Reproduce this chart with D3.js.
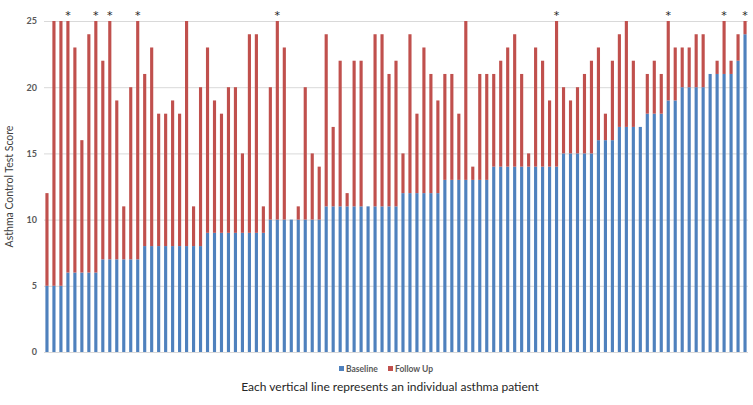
<!DOCTYPE html>
<html>
<head>
<meta charset="utf-8">
<script src="https://cdn.jsdelivr.net/npm/d3@7"></script>
<style>
  html, body { margin: 0; padding: 0; background: #fff; }
  svg { display: block; }
  text { font-family: Lato, "Open Sans", sans-serif; }
</style>
</head>
<body>
<svg id="chart" width="753" height="405"></svg>
<script>
const baseline = [5,5,5,6,6,6,6,6,7,7,7,7,7,7,8,8,8,8,8,8,8,8,8,9,9,9,9,9,9,9,9,9,
  10,10,10,10,10,10,10,10,11,11,11,11,11,11,11,11,11,11,11,12,12,12,12,12,12,
  13,13,13,13,13,13,13,14,14,14,14,14,14,14,14,14,14,15,15,15,15,15,16,16,16,
  17,17,17,17,18,18,18,19,19,20,20,20,20,21,21,21,21,22,24];
const followUp = [12,25,25,25,23,16,24,25,22,25,19,11,20,25,21,23,18,18,19,18,25,11,20,
  23,19,18,20,20,15,24,24,11,20,25,23,10,11,20,15,14,24,17,22,12,22,22,11,24,24,21,
  22,15,24,18,23,21,19,21,21,18,25,14,21,21,21,22,23,24,21,15,23,22,19,25,20,19,20,
  21,22,23,18,22,24,25,22,17,21,22,21,25,23,23,23,24,24,21,22,25,22,24,25];
const significant = [3,7,9,13,33,73,89,97,100];
const yTicks = [0,5,10,15,20,25];
const seriesNames = ["Baseline", "Follow Up"];
const colors = ["#4F81BD", "#C0504D"];

const patients = d3.range(baseline.length);
const svg = d3.select("#chart");
const margin = {left: 44, right: 5, top: 21, bottom: 53};
const W = 753, H = 405;

const x = d3.scaleBand().domain(patients).range([margin.left, W - margin.right]).paddingInner(0.55).paddingOuter(0.2);
const y = d3.scaleLinear().domain([0, 25]).range([H - margin.bottom, margin.top]);

// gridlines
svg.append("g").selectAll("line").data(yTicks).join("line")
  .attr("x1", margin.left).attr("x2", W - margin.right)
  .attr("y1", d => y(d) + 0.5).attr("y2", d => y(d) + 0.5)
  .attr("stroke", "#d9d9d9").attr("stroke-width", 1);

// y axis labels
const yAxis = d3.axisLeft(y).tickValues(yTicks).tickSize(0).tickPadding(7);
svg.append("g").attr("transform", `translate(${margin.left},0)`).call(yAxis)
  .call(g => g.select(".domain").remove())
  .call(g => g.selectAll("text").attr("fill", "#595959").attr("font-size", 9)
    .style("font-family", "Lato, sans-serif").attr("font-weight", "bold"));

// bars
const bw = x.bandwidth();
svg.append("g").selectAll("rect").data(patients).join("rect")
  .attr("x", i => x(i)).attr("width", bw)
  .attr("y", i => y(baseline[i])).attr("height", i => y(0) - y(baseline[i]))
  .attr("fill", colors[0]);
svg.append("g").selectAll("rect").data(patients.filter(i => followUp[i] > baseline[i])).join("rect")
  .attr("x", i => x(i)).attr("width", bw)
  .attr("y", i => y(followUp[i])).attr("height", i => y(baseline[i]) - y(followUp[i]))
  .attr("fill", colors[1]);

// asterisks
svg.append("g").selectAll("text").data(significant).join("text")
  .attr("x", i => x(i) + bw / 2).attr("y", 19)
  .attr("text-anchor", "middle").attr("font-size", 11).attr("fill", "#222")
  .style("font-family", "'DejaVu Sans', sans-serif")
  .text("*");

// y title
svg.append("text")
  .attr("transform", `translate(13,${(y(0)+y(25))/2}) rotate(-90)`)
  .attr("text-anchor", "middle").attr("font-size", 10.5).attr("fill", "#404040")
  .text("Asthma Control Test Score");

// legend
const legend = svg.append("g").attr("transform", "translate(339,369)");
const lx = [0, 49];
seriesNames.forEach((n, k) => {
  legend.append("rect").attr("x", lx[k]).attr("y", -3).attr("width", 5).attr("height", 5).attr("fill", colors[k]);
  legend.append("text").attr("x", lx[k] + 7).attr("y", 0).attr("dy", "0.35em")
    .attr("font-size", 8.5).attr("font-weight", "bold").attr("fill", "#595959").text(n);
});

// x title
svg.append("text").attr("x", 390).attr("y", 391).attr("text-anchor", "middle")
  .attr("font-size", 12).attr("fill", "#262626")
  .text("Each vertical line represents an individual asthma patient");
</script>
</body>
</html>
